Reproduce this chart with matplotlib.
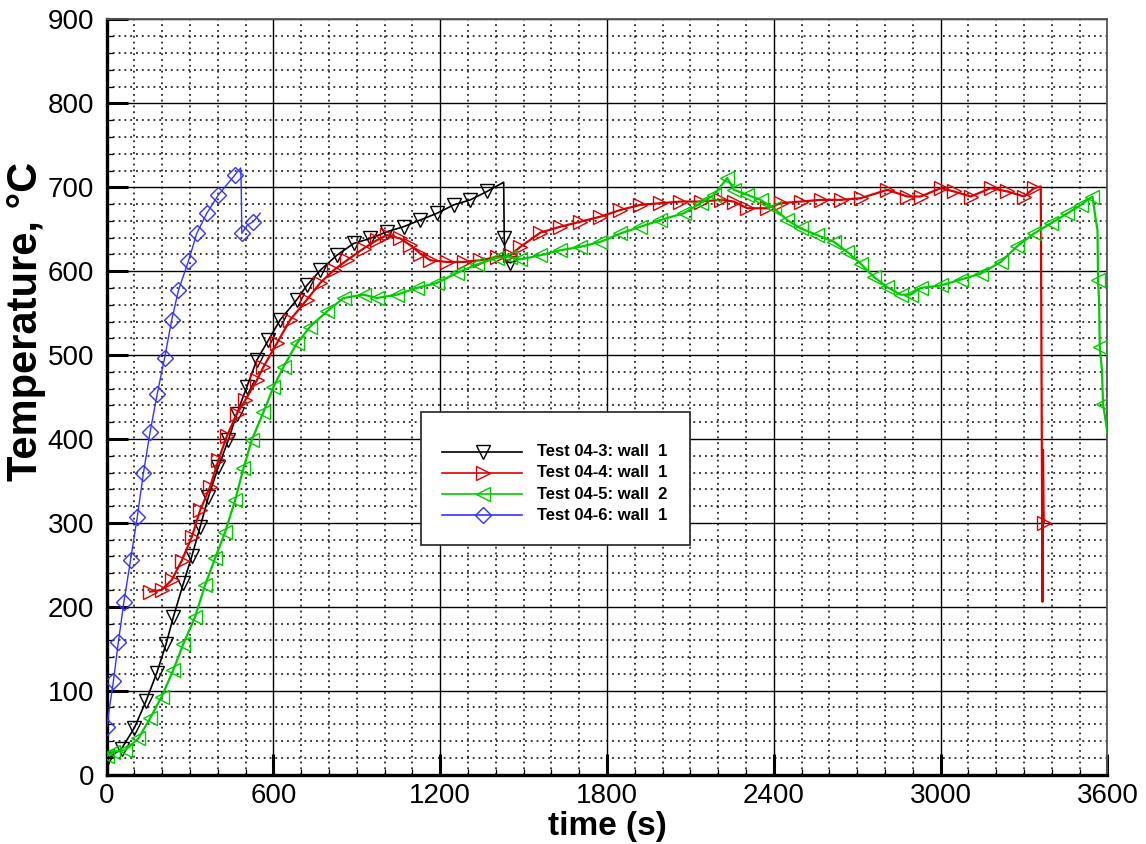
import matplotlib
matplotlib.use("Agg")
import matplotlib.pyplot as plt
from matplotlib.ticker import MultipleLocator
from matplotlib.patches import Rectangle
from matplotlib.lines import Line2D

plt.rcParams['font.family'] = ['Liberation Sans', 'DejaVu Sans']

# ---- data: wall temperature histories ----
t_043 = [0, 54, 100, 142, 180, 214, 240, 276, 306, 336, 366, 402, 438, 468, 504, 540, 582, 624,
         684, 720, 768, 828, 888, 948, 1008, 1068, 1128, 1188, 1248, 1308, 1368, 1428, 1430,
         1434, 1452, 1480]
T_043 = [18, 31, 56, 88, 121, 156, 188, 228, 260, 295, 331, 367, 399, 430, 462, 494, 518, 542,
         566, 583, 601, 619, 633, 639, 647, 653, 661, 669, 679, 685, 695, 706, 640,
         612, 610, 614]

t_044 = [156, 198, 234, 270, 306, 336, 372, 402, 432, 468, 498, 540, 564, 612, 660, 720, 768,
         816, 864, 924, 972, 1008, 1056, 1092, 1128, 1164, 1224, 1284, 1344, 1404, 1452, 1488,
         1560, 1632, 1704, 1776, 1848, 1920, 1992, 2064, 2136, 2208, 2256, 2304, 2376, 2424,
         2496, 2568, 2640, 2712, 2808, 2880, 2928, 3000, 3048, 3108, 3180, 3240, 3300, 3336,
         3360, 3366, 3368, 3370, 3371]
T_044 = [218, 220, 232, 255, 283, 315, 343, 375, 403, 430, 446, 470, 486, 514, 542, 566, 586,
         601, 613, 627, 637, 643, 639, 631, 621, 613, 611, 611, 613, 617, 619, 629,
         646, 653, 659, 665, 673, 679, 681, 683, 683, 685, 683, 675, 675, 681,
         683, 685, 685, 687, 697, 689, 689, 699, 695, 689, 699, 695, 689, 699,
         701, 206, 387, 317, 300]

t_045 = [0, 24, 66, 114, 156, 198, 240, 276, 318, 354, 390, 426, 462, 492, 522, 564, 600, 636,
         684, 732, 792, 852, 924, 972, 1044, 1116, 1188, 1260, 1332, 1404, 1452, 1488, 1560,
         1632, 1704, 1776, 1848, 1920, 1992, 2076, 2136, 2184, 2232, 2256, 2304, 2352, 2400,
         2448, 2496, 2556, 2616, 2664, 2712, 2760, 2808, 2856, 2892, 2928, 3000, 3072, 3144,
         3216, 3276, 3336, 3396, 3456, 3504, 3546, 3558, 3564, 3566, 3570, 3572, 3580, 3584,
         3600]
T_045 = [22, 27, 29, 43, 67, 93, 125, 156, 188, 226, 258, 289, 327, 365, 399, 432, 462, 486,
         514, 534, 552, 568, 572, 568, 572, 580, 586, 598, 608, 616, 617, 614, 619,
         625, 629, 635, 645, 653, 661, 669, 681, 691, 711, 697, 691, 685, 675,
         661, 651, 643, 635, 623, 609, 593, 581, 572, 572, 580, 583, 590, 597,
         611, 630, 645, 657, 669, 679, 689, 661, 649, 590, 562, 510, 482, 442,
         407]

t_046 = [0, 24, 42, 62, 86, 110, 132, 156, 182, 208, 234, 258, 294, 324, 360, 402, 462, 482,
         484, 486, 506, 527, 552]
T_046 = [57, 111, 158, 206, 256, 307, 359, 408, 454, 496, 542, 577, 612, 645, 669, 691, 715,
         723, 700, 645, 655, 659, 669]

labels = ["Test 04-3: wall  1", "Test 04-4: wall  1", "Test 04-5: wall  2", "Test 04-6: wall  1"]

x_ticks = [0, 600, 1200, 1800, 2400, 3000, 3600]
y_ticks = [0, 100, 200, 300, 400, 500, 600, 700, 800, 900]


def marker_idx(n, skip):
    return [i for i in range(n) if i not in skip]


series = [
    dict(t=t_043, T=T_043, color='black', marker='v', ms=10.5, lw=1.2,
         mev=marker_idx(len(t_043), {31, 33, 35})),
    dict(t=t_044, T=T_044, color='#dd0000', marker='>', ms=10.5, lw=1.6,
         mev=marker_idx(len(t_044), {60, 61, 62, 63})),
    dict(t=t_045, T=T_045, color='#00cc00', marker='<', ms=10.5, lw=1.6,
         mev=marker_idx(len(t_045), {68, 69, 71, 73, 75})),
    dict(t=t_046, T=T_046, color='#3333ff', marker='D', ms=8.0, lw=1.0,
         mev=marker_idx(len(t_046), {17, 18, 20, 22})),
]

fig = plt.figure(figsize=(11.46, 8.44), dpi=100)
ax = fig.add_axes([0.0931, 0.0823, 0.8733, 0.8946])

for s in series:
    ax.plot(s['t'], s['T'], color=s['color'], lw=s['lw'], marker=s['marker'],
            ms=s['ms'], mfc='none', mec=s['color'], mew=1.0, markevery=s['mev'],
            clip_on=True, zorder=3)

ax.set_xlim(0, 3600)
ax.set_ylim(0, 900)
ax.set_xticks(x_ticks)
ax.set_yticks(y_ticks)
ax.xaxis.set_minor_locator(MultipleLocator(100))
ax.yaxis.set_minor_locator(MultipleLocator(20))

ax.set_axisbelow(True)
ax.grid(which='major', color='black', lw=1.0, ls='-')
ax.grid(which='minor', color='black', lw=1.1, ls=(0, (1.2, 2.6)))

ax.tick_params(which='major', direction='in', length=15, width=2.2, top=False, right=False,
               labelsize=20, pad=9)
ax.tick_params(which='minor', direction='in', length=4.5, width=0.9, top=False, right=False)
ax.tick_params(axis='x', which='major', pad=6)

for side in ('left', 'bottom'):
    ax.spines[side].set_linewidth(2.4)
    ax.spines[side].set_color('black')
for side in ('top', 'right'):
    ax.spines[side].set_linewidth(1.3)
    ax.spines[side].set_color('#555555')

ax.set_xlabel('time (s)', fontsize=24, fontweight='bold', labelpad=1.5)
ax.set_ylabel('Temperature, °C', fontsize=30, fontweight='bold', va='center', ha='center')
ax.yaxis.set_label_coords(-0.081, 0.60)

# legend panel
box = Rectangle((0.314, 0.304), 0.269, 0.176, transform=ax.transAxes, facecolor='white',
                edgecolor='#333333', lw=1.3, zorder=6)
ax.add_patch(box)
row_y = [0.4275, 0.3997, 0.3715, 0.3433]
for s, lab, yy in zip(series, labels, row_y):
    ax.add_line(Line2D([0.3354, 0.4153], [yy, yy], transform=ax.transAxes, color=s['color'],
                       lw=1.2, zorder=7))
    ax.add_line(Line2D([0.3757], [yy], transform=ax.transAxes, color=s['color'], lw=0,
                       marker=s['marker'], ms=s['ms'], mfc='none', mec=s['color'], mew=1.0,
                       zorder=8))
    ax.text(0.4297, yy, lab, transform=ax.transAxes, fontsize=12, fontweight='bold',
            va='center', ha='left', zorder=8)

fig.savefig('out.png', dpi=100)
